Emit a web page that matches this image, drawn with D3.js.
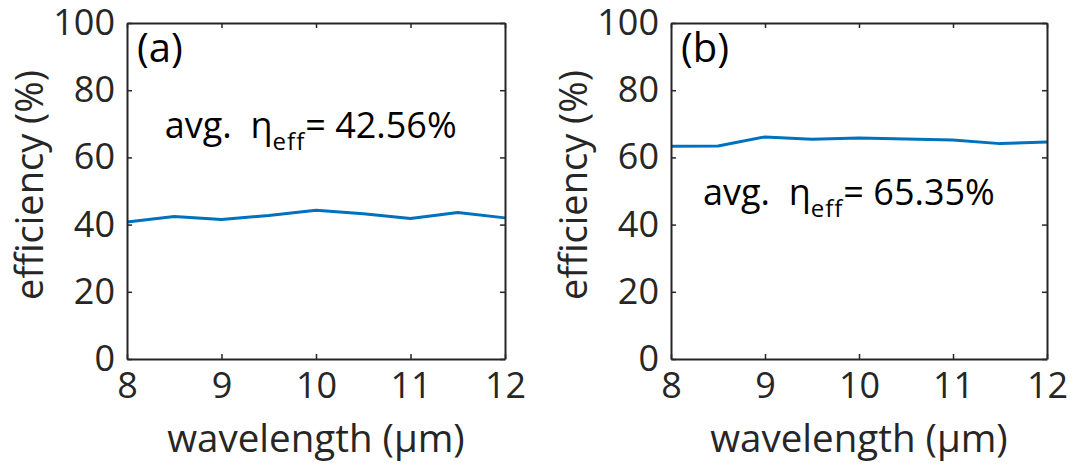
<!DOCTYPE html>
<html>
<head>
<meta charset="utf-8">
<script src="https://cdn.jsdelivr.net/npm/d3@7"></script>
<style>
  body { margin: 0; background: #fff; }
  svg { display: block; font-family: "Open Sans", sans-serif; }
</style>
</head>
<body>
<div id="chart"></div>
<script>
'use strict';

// wavelength samples (um) and efficiency (%)
const wavelengths = [8, 8.5, 9, 9.5, 10, 10.5, 11, 11.5, 12];
const eff_a = [40.8, 42.4, 41.5, 42.7, 44.3, 43.2, 41.8, 43.6, 42.0];
const eff_b = [63.3, 63.4, 66.1, 65.4, 65.8, 65.5, 65.2, 64.1, 64.6];

const x_ticks = [8, 9, 10, 11, 12];
const y_ticks = [0, 20, 40, 60, 80, 100];

const panel_tags = ["(a)", "(b)"];
const avg_values = ["42.56%", "65.35%"];

const width = 1078;
const height = 472;

const svg = d3.select("#chart").append("svg")
  .attr("width", width)
  .attr("height", height);

const ink = "#262626";

var panels = [
  { left: 127, right: 505, series: eff_a, tag: panel_tags[0], avg: avg_values[0], note: [8.40, 65.7] },
  { left: 671, right: 1047, series: eff_b, tag: panel_tags[1], avg: avg_values[1], note: [8.34, 45.8] }
];

const plot_top = 23, plot_bottom = 359;

function drawPanel(p)
{
  var x = d3.scaleLinear().domain([8, 12]).range([p.left, p.right]);
  var y = d3.scaleLinear().domain([0, 100]).range([plot_bottom, plot_top]);

  var g = svg.append("g");

  // line
  var line = d3.line()
    .x(function(d, i) { return x(wavelengths[i]); })
    .y(function(d) { return y(d); });

  g.append("path")
    .datum(p.series)
    .attr("fill", "none")
    .attr("stroke", "#0072BD")
    .attr("stroke-width", 3)
    .attr("stroke-linejoin", "round")
    .attr("d", line);

  // axes, ticks inward, mirrored on top/right
  var axB = d3.axisBottom(x).tickValues(x_ticks).tickFormat(d3.format("d")).tickSizeInner(-5).tickSizeOuter(0).tickPadding(13);
  var axT = d3.axisTop(x).tickValues(x_ticks).tickSizeInner(-5).tickSizeOuter(0).tickFormat("");
  var axL = d3.axisLeft(y).tickValues(y_ticks).tickFormat(d3.format("d")).tickSizeInner(-5).tickSizeOuter(0).tickPadding(12);
  var axR = d3.axisRight(y).tickValues(y_ticks).tickSizeInner(-5).tickSizeOuter(0).tickFormat("");

  [
    [axB, "translate(0," + plot_bottom + ")"],
    [axT, "translate(0," + plot_top + ")"],
    [axL, "translate(" + p.left + ",0)"],
    [axR, "translate(" + p.right + ",0)"]
  ].forEach(function(a) {
    var ax = g.append("g").attr("transform", a[1]).call(a[0]);
    ax.select(".domain").attr("stroke", ink).attr("stroke-width", 2);
    ax.selectAll(".tick line").attr("stroke", ink).attr("stroke-width", 1.5);
    ax.selectAll(".tick text")
      .attr("fill", ink)
      .attr("font-family", "'Open Sans', sans-serif")
      .attr("font-size", 36);
  });

  // axis labels
  g.append("text")
    .attr("x", (p.left + p.right) / 2)
    .attr("y", 452)
    .attr("text-anchor", "middle")
    .attr("fill", ink)
    .attr("font-size", 38.5)
    .text("wavelength (\u00b5m)");

  g.append("text")
    .attr("transform", "translate(" + (p.left - 84) + "," + ((plot_top + plot_bottom) / 2 - 6) + ") rotate(-90)")
    .attr("text-anchor", "middle")
    .attr("fill", ink)
    .attr("font-size", 38)
    .text("efficiency (%)");

  // panel tag
  g.append("text")
    .attr("x", p.left + 10)
    .attr("y", 62)
    .attr("fill", "#000")
    .attr("font-size", 40)
    .text(p.tag);

  // average annotation
  var t = g.append("text")
    .attr("x", x(p.note[0]))
    .attr("y", y(p.note[1]))
    .attr("fill", "#000")
    .attr("font-size", 36);
  t.append("tspan").text("avg.\u00a0\u00a0\u03b7");
  t.append("tspan").attr("dy", 12).attr("font-size", 24).attr("letter-spacing", 1).text("eff");
  t.append("tspan").attr("dy", -12).text("=\u00a0" + p.avg);
}

panels.forEach(drawPanel);
</script>
</body>
</html>
